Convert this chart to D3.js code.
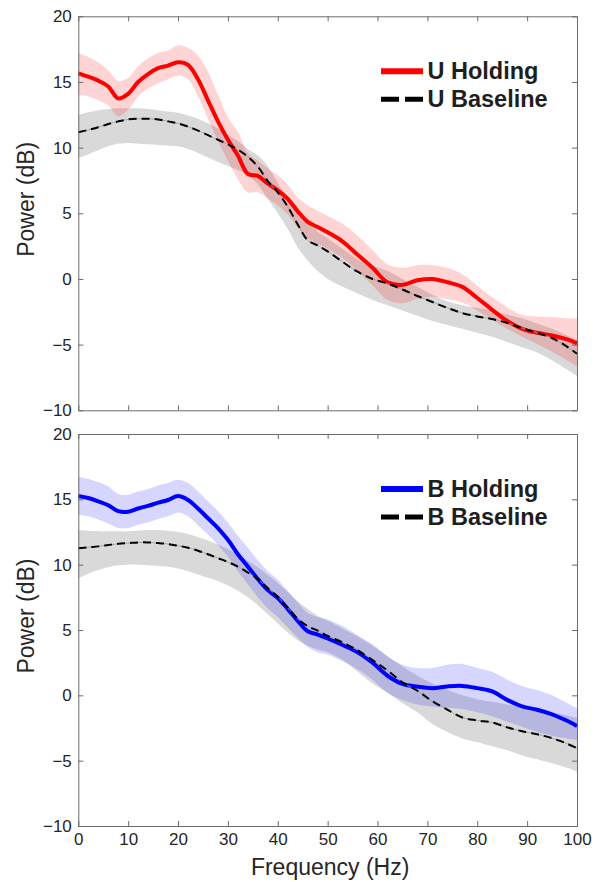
<!DOCTYPE html>
<html>
<head>
<meta charset="utf-8">
<script src="https://cdn.jsdelivr.net/npm/d3@7"></script>
<style>
  html, body { margin: 0; padding: 0; background: #fff; }
  svg { display: block; font-family: "Liberation Sans", Arial, Helvetica, sans-serif; }
</style>
</head>
<body>
<svg id="chart" width="600" height="882"></svg>
<script>
// Frequency grid (Hz) shared by all series
const freqHz = [0,2,4,6,8,10,12,14,16,18,20,22,24,26,28,30,32,34,36,38,40,42,44,46,48,50,
                53,56,59,62,65,68,71,74,77,80,83,86,89,92,95,98,100];

// U condition: holding (mean, upper, lower) in dB
const uHoldMean = [15.66,15.4,15.1,14.65,13.75,14.1,15.0,15.6,16.05,16.25,16.5,16.3,15.2,13.6,12.0,10.6,9.4,8.0,7.85,7.25,6.75,6.1,5.15,4.35,3.95,3.55,
                   2.85,1.85,0.85,-0.25,-0.45,-0.1,0.0,-0.25,-0.6,-1.45,-2.35,-3.2,-3.8,-4.1,-4.3,-4.6,-4.9];
const uHoldHi   = [17.2,16.9,16.5,15.9,15.1,15.3,16.2,16.8,17.2,17.4,17.8,17.6,17.0,15.8,14.0,12.3,11.2,9.6,9.0,8.4,7.9,7.2,6.2,5.6,5.2,4.8,
                   4.2,3.3,2.2,1.1,0.85,1.05,1.05,0.85,0.35,-0.5,-1.4,-2.15,-2.75,-2.85,-2.9,-3.0,-3.0];
const uHoldLo   = [14.0,13.9,13.6,13.2,12.4,12.9,13.9,14.5,14.9,15.2,15.5,15.2,13.9,12.2,10.5,9.0,7.6,6.6,6.6,6.1,5.6,4.9,3.9,3.1,2.7,2.3,
                   1.6,0.6,-0.5,-1.6,-1.85,-1.5,-1.35,-1.55,-1.8,-2.4,-3.1,-3.8,-4.4,-4.95,-5.55,-6.2,-6.65];

// U condition: baseline (mean, upper, lower) in dB
const uBaseMean = [11.17,11.35,11.55,11.8,12.0,12.15,12.2,12.2,12.15,12.0,11.85,11.6,11.3,10.95,10.6,10.25,9.85,9.3,8.55,7.45,6.6,5.5,4.15,2.95,2.55,2.1,
                   1.3,0.55,0.0,-0.35,-0.8,-1.3,-1.75,-2.2,-2.6,-2.85,-3.05,-3.35,-3.75,-4.1,-4.5,-5.15,-5.7];
const uBaseHi   = [12.5,12.7,12.85,12.95,13.0,13.0,13.0,12.95,12.85,12.75,12.65,12.45,12.2,11.85,11.45,11.0,10.5,9.9,9.4,8.6,7.3,6.2,5.4,4.3,3.6,3.1,
                   2.3,1.5,1.0,0.6,0.0,-0.6,-1.2,-1.7,-2.0,-2.2,-2.4,-2.7,-3.0,-3.4,-3.8,-4.3,-4.6];
const uBaseLo   = [9.2,9.5,9.8,10.1,10.3,10.35,10.3,10.25,10.2,10.15,10.1,9.9,9.6,9.25,8.9,8.6,8.3,7.9,7.2,6.1,5.0,3.8,2.4,1.4,0.6,0.0,
                   -0.6,-1.1,-1.6,-2.0,-2.4,-2.8,-3.2,-3.5,-3.8,-4.1,-4.4,-4.8,-5.2,-5.6,-6.2,-6.9,-7.4];

// B condition: holding (mean, upper, lower) in dB
const bHoldMean = [15.26,15.1,14.85,14.55,14.1,14.05,14.3,14.5,14.75,14.95,15.25,14.95,14.3,13.55,12.8,11.9,10.8,9.85,8.9,8.05,7.45,6.6,5.7,4.9,4.65,4.35,
                   3.85,3.3,2.5,1.5,0.88,0.66,0.55,0.68,0.72,0.55,0.3,-0.35,-0.85,-1.1,-1.45,-1.95,-2.34];
const bHoldHi   = [16.73,16.55,16.3,16.0,15.4,15.35,15.6,15.8,16.05,16.25,16.5,16.25,15.6,14.85,14.1,13.2,12.2,11.3,10.35,9.5,8.85,8.0,7.1,6.3,6.0,5.8,
                   5.3,4.6,3.9,3.0,2.35,2.1,2.1,2.35,2.4,2.1,1.8,1.2,0.7,0.4,0.0,-0.6,-0.98];
const bHoldLo   = [13.8,13.7,13.45,13.15,12.8,12.8,13.05,13.25,13.5,13.7,14.0,13.7,13.0,12.3,11.5,10.6,9.5,8.5,7.5,6.65,6.0,5.2,4.4,3.7,3.3,3.1,
                   2.6,2.0,1.2,0.2,-0.35,-0.7,-0.85,-0.95,-1.05,-1.3,-1.6,-2.0,-2.4,-2.8,-3.1,-3.3,-3.4];

// B condition: baseline (mean, upper, lower) in dB
const bBaseMean = [11.25,11.33,11.4,11.5,11.6,11.65,11.7,11.7,11.65,11.58,11.45,11.3,11.07,10.8,10.5,10.2,9.85,9.4,8.9,8.2,7.55,6.7,5.85,5.3,4.95,4.55,
                   4.05,3.45,2.7,1.9,1.0,0.35,-0.45,-1.1,-1.7,-1.92,-2.08,-2.45,-2.75,-2.98,-3.28,-3.7,-4.05];
const bBaseHi   = [12.65,12.6,12.55,12.55,12.55,12.55,12.6,12.65,12.65,12.6,12.5,12.35,12.1,11.85,11.55,11.2,10.8,10.3,9.8,9.2,8.6,7.9,7.2,6.6,6.1,5.7,
                   5.1,4.5,3.8,3.0,2.2,1.5,0.9,0.4,0.0,-0.3,-0.5,-0.7,-0.9,-1.1,-1.3,-1.55,-1.75];
const bBaseLo   = [8.96,9.3,9.6,9.8,9.95,10.0,10.0,9.95,9.9,9.85,9.7,9.5,9.25,9.0,8.75,8.4,8.0,7.5,6.9,6.2,5.5,4.8,4.2,3.8,3.5,3.3,
                   2.7,1.8,0.9,0.2,-0.6,-1.3,-2.2,-2.8,-3.3,-3.6,-3.9,-4.2,-4.6,-4.9,-5.2,-5.55,-5.84];

// Axis ticks and labels
const xTicks = [0,10,20,30,40,50,60,70,80,90,100];
const yTicks = [-10,-5,0,5,10,15,20];
const xDomain = [0, 100];
const yDomain = [-10, 20];
const xLabel = "Frequency (Hz)";
const yLabel = "Power (dB)";
const legendU = ["U Holding", "U Baseline"];
const legendB = ["B Holding", "B Baseline"];

const panels = [
  { top: 16.3, bottom: 410.3, color: "#ff0000", bandOpacity: 0.17,
    hold: { mean: uHoldMean, hi: uHoldHi, lo: uHoldLo },
    base: { mean: uBaseMean, hi: uBaseHi, lo: uBaseLo },
    legend: legendU, showX: false },
  { top: 434, bottom: 826, color: "#0000ff", bandOpacity: 0.16,
    hold: { mean: bHoldMean, hi: bHoldHi, lo: bHoldLo },
    base: { mean: bBaseMean, hi: bBaseHi, lo: bBaseLo },
    legend: legendB, showX: true }
];

const svg = d3.select("#chart");
const left = 78.3, right = 577;
const axisColor = "#6b6b6b";
const textColor = "#262626";

const x = d3.scaleLinear().domain(xDomain).range([left, right]);

panels.forEach(p => {
  const y = d3.scaleLinear().domain(yDomain).range([p.bottom, p.top]);
  const g = svg.append("g");

  const rows = (s) => freqHz.map((f, i) => ({ f, m: s.mean[i], hi: s.hi[i], lo: s.lo[i] }));
  const baseRows = rows(p.base);
  const holdRows = rows(p.hold);

  const area = d3.area().x(d => x(d.f)).y0(d => y(d.lo)).y1(d => y(d.hi)).curve(d3.curveCatmullRom);
  const line = d3.line().x(d => x(d.f)).y(d => y(d.m)).curve(d3.curveCatmullRom);

  // shaded error bands
  g.append("path").attr("d", area(baseRows)).attr("fill", "#000").attr("fill-opacity", 0.15);
  g.append("path").attr("d", area(holdRows)).attr("fill", p.color).attr("fill-opacity", p.bandOpacity);

  // holding mean
  g.append("path").attr("d", line(holdRows)).attr("fill", "none")
    .attr("stroke", p.color).attr("stroke-width", 4).attr("stroke-linejoin", "round");

  // baseline mean: faint guide under the dashes
  g.append("path").attr("d", line(baseRows)).attr("fill", "none")
    .attr("stroke", "#9a9a9a").attr("stroke-width", 0.8);
  g.append("path").attr("d", line(baseRows)).attr("fill", "none")
    .attr("stroke", "#000").attr("stroke-width", 2).attr("stroke-dasharray", "8,5");

  // axes with inward ticks on all four sides
  const styleAxis = sel => {
    sel.selectAll("path.domain").attr("stroke", axisColor);
    sel.selectAll(".tick line").attr("stroke", axisColor);
    sel.selectAll(".tick text").attr("fill", textColor).style("font-size", "17px")
      .style("font-family", '"Liberation Sans", Arial, sans-serif');
  };

  g.append("g").attr("transform", `translate(${left},0)`)
    .call(d3.axisLeft(y).tickValues(yTicks).tickSizeInner(-5).tickSizeOuter(0).tickPadding(6.5))
    .call(styleAxis);
  g.append("g").attr("transform", `translate(${right},0)`)
    .call(d3.axisRight(y).tickValues(yTicks).tickSizeInner(-5).tickSizeOuter(0).tickFormat(""))
    .call(styleAxis);
  g.append("g").attr("transform", `translate(0,${p.top})`)
    .call(d3.axisTop(x).tickValues(xTicks).tickSizeInner(-5).tickSizeOuter(0).tickFormat(""))
    .call(styleAxis);
  g.append("g").attr("transform", `translate(0,${p.bottom})`)
    .call(d3.axisBottom(x).tickValues(xTicks).tickSizeInner(-5).tickSizeOuter(0).tickPadding(7)
      .tickFormat(p.showX ? d3.format("d") : ""))
    .call(styleAxis);

  // y axis title
  const cy = (p.top + p.bottom) / 2 - 14;
  g.append("text").attr("transform", `translate(34,${cy}) rotate(-90)`)
    .attr("text-anchor", "middle").attr("fill", textColor)
    .style("font-size", "23px").text(yLabel);

  // legend
  const lg = g.append("g").attr("transform", `translate(0,${p.top})`);
  const lx0 = 381, lx1 = 423, tx = 427.5;
  lg.append("line").attr("x1", lx0).attr("x2", lx1).attr("y1", 55).attr("y2", 55)
    .attr("stroke", p.color).attr("stroke-width", 6);
  lg.append("text").attr("x", tx).attr("y", 62.5).attr("fill", "#1e1e1e")
    .style("font-size", "23.5px").style("font-weight", "bold").text(p.legend[0]);
  lg.append("line").attr("x1", lx0).attr("x2", lx1).attr("y1", 83).attr("y2", 83)
    .attr("stroke", "#000").attr("stroke-width", 5).attr("stroke-dasharray", "18,6");
  lg.append("text").attr("x", tx).attr("y", 90.5).attr("fill", "#1e1e1e")
    .style("font-size", "23.5px").style("font-weight", "bold").text(p.legend[1]);

  if (p.showX) {
    g.append("text").attr("x", (left + right) / 2 + 2.5).attr("y", 875)
      .attr("text-anchor", "middle").attr("fill", textColor)
      .style("font-size", "23px").text(xLabel);
  }
});
</script>
</body>
</html>
